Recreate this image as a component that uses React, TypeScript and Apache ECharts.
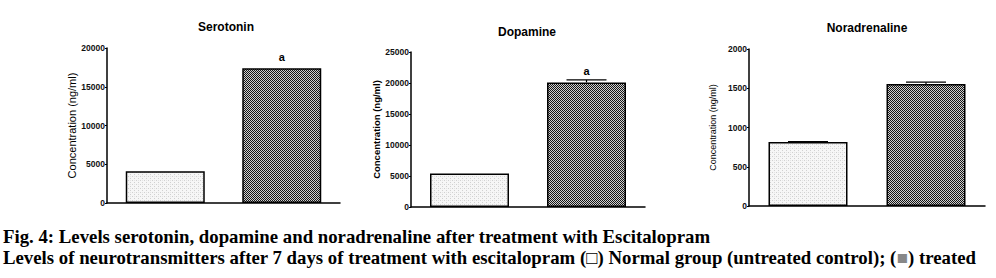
import React, { useEffect, useRef } from "react";
import * as echarts from "echarts";

const groups = ["Normal", "Escitalopram"];
const serotonin = [4100, 17400];
const serotoninErr = [0, 0];
const dopamine = [5400, 20100];
const dopamineErr = [0, 400];
const noradrenaline = [815, 1555];
const noradrenalineErr = [5, 22];
const serotoninSig = ["", "a"];
const dopamineSig = ["", "a"];
const noradrenalineSig = ["", ""];
const panelTitles = ["Serotonin", "Dopamine", "Noradrenaline"];
const yMax = [20000, 25000, 2000];
const yStep = [5000, 5000, 500];
const yName = "Concentration (ng/ml)";
const captionLine1 = "Fig. 4: Levels serotonin, dopamine and noradrenaline after treatment with Escitalopram";
const captionLine2a = "Levels of neurotransmitters after 7 days of treatment with escitalopram (\u25a1) Normal group (untreated control); (";
const captionLine2b = "\u25a0";
const captionLine2c = ") treated";

function makePattern(kind: "light" | "dark"): string {
  const c = document.createElement("canvas");
  c.width = 4;
  c.height = 4;
  const ctx = c.getContext("2d")!;
  if (kind === "dark") {
    for (let y = 0; y < 4; y++) {
      for (let x = 0; x < 4; x++) {
        ctx.fillStyle = (x + y) % 2 === 0 ? "#151515" : "#d0d0d0";
        ctx.fillRect(x, y, 1, 1);
      }
    }
  } else {
    ctx.fillStyle = "#f6f6f6";
    ctx.fillRect(0, 0, 4, 4);
    ctx.fillStyle = "#d0d0d0";
    ctx.fillRect(0, 0, 1, 1);
    ctx.fillRect(2, 2, 1, 1);
    ctx.fillStyle = "#e4e4e4";
    ctx.fillRect(2, 0, 1, 1);
  }
  return c.toDataURL();
}

export default function App() {
  const ref = useRef<HTMLDivElement>(null);
  useEffect(() => {
    if (!ref.current) return;
    const chart = echarts.init(ref.current, null, { renderer: "svg" });
    const light = { image: makePattern("light"), repeat: "repeat" };
    const dark = { image: makePattern("dark"), repeat: "repeat" };
    const grids = [
      { left: 107, top: 48, width: 233, height: 155 },
      { left: 411, top: 52, width: 234, height: 155 },
      { left: 749, top: 49, width: 236, height: 157 },
    ];
    const titleCenters = [
      { x: 226, y: 21 },
      { x: 527, y: 26 },
      { x: 867, y: 22 },
    ];
    const values = [serotonin, dopamine, noradrenaline];
    const errs = [serotoninErr, dopamineErr, noradrenalineErr];
    const sigs = [serotoninSig, dopamineSig, noradrenalineSig];
    const nameStyles = [
      { fontSize: 11, fontWeight: "normal", gap: 29 },
      { fontSize: 9.5, fontWeight: "bold", gap: 29 },
      { fontSize: 9, fontWeight: "normal", gap: 32 },
    ];
    const series: any[] = [];
    values.forEach((vals, i) => {
      series.push({
        type: "bar",
        xAxisIndex: i,
        yAxisIndex: i,
        barWidth: 79,
        data: vals.map((v, j) => ({
          value: v,
          itemStyle: {
            color: j === 0 ? light : dark,
            borderColor: "#000",
            borderWidth: 1.5,
          },
        })),
      });
      series.push({
        type: "custom",
        xAxisIndex: i,
        yAxisIndex: i,
        z: 5,
        data: vals.map((v, j) => [j, v, v + errs[i][j]]),
        renderItem: (params: any, api: any) => {
          const top = api.coord([api.value(0), api.value(1)]);
          const hi = api.coord([api.value(0), api.value(2)]);
          const sig = sigs[i][params.dataIndex];
          const children: any[] = [];
          const hasErr = api.value(2) > api.value(1);
          if (hasErr) {
            children.push({
              type: "line",
              shape: { x1: hi[0], y1: top[1], x2: hi[0], y2: hi[1] },
              style: { stroke: "#000", lineWidth: 1.2 },
            });
            children.push({
              type: "line",
              shape: { x1: hi[0] - 20, y1: hi[1], x2: hi[0] + 20, y2: hi[1] },
              style: { stroke: "#000", lineWidth: 1.2 },
            });
          }
          if (sig) {
            children.push({
              type: "text",
              x: hi[0],
              y: hi[1] - (hasErr ? 3 : 6),
              style: {
                text: sig,
                fontFamily: "Liberation Sans",
                fontWeight: "bold",
                fontSize: 11,
                fill: "#000",
                align: "center",
                verticalAlign: "bottom",
              },
            });
          }
          return { type: "group", children };
        },
      });
    });
    const capStyle = {
      fontFamily: "Liberation Serif",
      fontWeight: "bold",
      fontSize: 18.8,
      fill: "#000",
    };
    chart.setOption({
      animation: false,
      title: panelTitles.map((t, i) => ({
        text: t,
        left: titleCenters[i].x,
        top: titleCenters[i].y,
        textAlign: "center",
        padding: 0,
        textStyle: {
          fontFamily: "Liberation Sans",
          fontWeight: "bold",
          fontSize: 12,
          color: "#000",
        },
      })),
      grid: grids,
      xAxis: grids.map((_, i) => ({
        type: "category",
        gridIndex: i,
        data: groups,
        axisLine: { lineStyle: { color: "#000", width: 1.5 } },
        axisTick: { show: false },
        axisLabel: { show: false },
      })),
      yAxis: grids.map((_, i) => ({
        type: "value",
        gridIndex: i,
        min: 0,
        max: yMax[i],
        interval: yStep[i],
        name: yName,
        nameLocation: "middle",
        nameGap: nameStyles[i].gap,
        nameTextStyle: {
          fontFamily: "Liberation Sans",
          fontSize: nameStyles[i].fontSize,
          fontWeight: nameStyles[i].fontWeight,
          color: "#000",
        },
        splitLine: { show: false },
        axisLine: { show: true, lineStyle: { color: "#000", width: 1.5 } },
        axisTick: { show: true, length: 2, lineStyle: { color: "#000" } },
        axisLabel: {
          margin: 2,
          fontFamily: "Liberation Sans",
          fontSize: 8.5,
          fontWeight: "bold",
          color: "#111",
          formatter: (v: number) => String(v),
        },
      })),
      graphic: [
        {
          type: "text",
          left: 3,
          top: 227,
          style: { ...capStyle, text: captionLine1 },
        },
        {
          type: "text",
          left: 3,
          top: 248,
          style: {
            ...capStyle,
            text: "{n|" + captionLine2a + "}{g|" + captionLine2b + "}{n|" + captionLine2c + "}",
            rich: {
              n: { ...capStyle },
              g: { ...capStyle, fill: "#888" },
            },
          },
        },
      ],
      series,
    });
    return () => chart.dispose();
  }, []);
  return (
    <div
      ref={ref}
      style={{ position: "fixed", left: 0, top: 0, width: 996, height: 278, background: "#fff" }}
    />
  );
}
